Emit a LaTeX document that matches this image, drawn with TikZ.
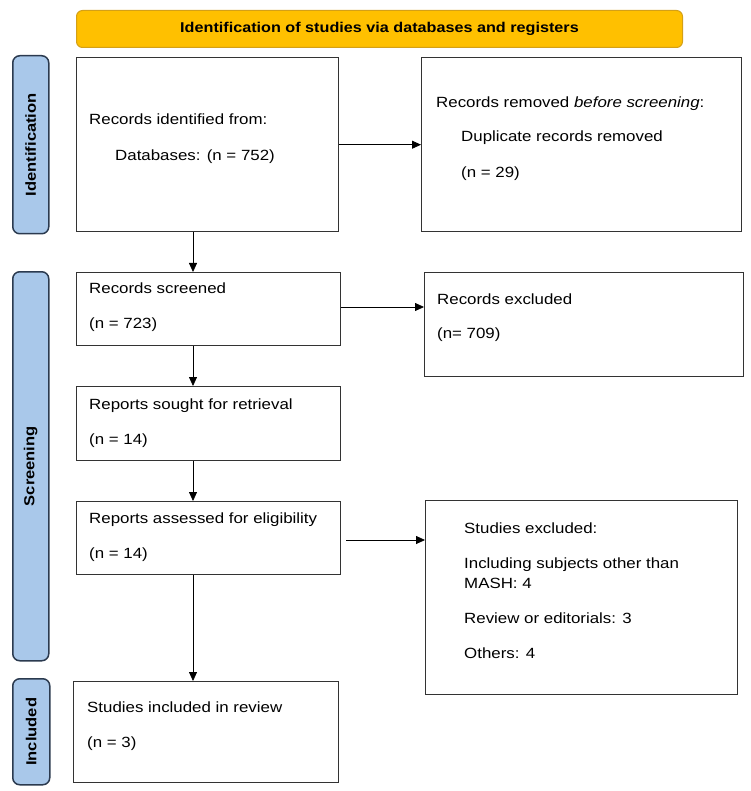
\documentclass[tikz,border=0pt]{standalone}
\usepackage{fontspec}
\setmainfont{Liberation Sans}[FakeStretch=1.14]
\usetikzlibrary{arrows.meta,calc}
\definecolor{bannerfill}{HTML}{FFC000}
\definecolor{bannerdraw}{HTML}{D4A017}
\definecolor{sidefill}{HTML}{A9C8EA}
\definecolor{sidedraw}{HTML}{2B3A4F}
\definecolor{boxdraw}{HTML}{333333}
\tikzset{
  box/.style={draw=boxdraw, line width=1.4pt, fill=white, rectangle, anchor=north west, inner sep=0pt},
  banner/.style={draw=bannerdraw, line width=1pt, fill=bannerfill, rounded corners=6pt, anchor=north west, inner sep=0pt},
  side/.style={draw=sidedraw, line width=1.5pt, fill=sidefill, rounded corners=7pt, anchor=north west, inner sep=0pt},
  sidetext/.style={rotate=90, font=\fontsize{14.5}{16}\selectfont\bfseries},
  txt/.style={anchor=base west, inner sep=0pt, font=\fontsize{14.8}{17}\selectfont},
  arr/.style={draw=black, line width=0.8pt, -{Triangle[length=9pt,width=8pt]}}
}
\begin{document}
\begin{tikzpicture}[x=1pt,y=-1pt]
\useasboundingbox (0,0) rectangle (750,791);
% banner
\node[banner, minimum width=606pt, minimum height=37pt] (ban) at (76,10) {};
\node[font=\fontsize{14.2}{16}\selectfont\bfseries, inner sep=0pt] (bantxt) at (ban.center) {Identification of studies via databases and registers};
% side labels
\node[side, minimum width=36pt, minimum height=178pt] (sid) at (12,55) {};
\node[sidetext] (sidt) at (sid.center) {Identification};
\node[side, minimum width=36pt, minimum height=389pt] (sscr) at (12,271) {};
\node[sidetext] (sscrt) at (sscr.center) {Screening};
\node[side, minimum width=37pt, minimum height=106pt] (sinc) at (12,678) {};
\node[sidetext] (sinct) at (sinc.center) {Included};
% boxes
\node[box, minimum width=262pt, minimum height=174pt] (b1) at (76,57) {};
\node[box, minimum width=320pt, minimum height=174pt] (b2) at (421,57) {};
\node[box, minimum width=264pt, minimum height=73pt] (scr) at (76,272) {};
\node[box, minimum width=319pt, minimum height=104pt] (exc) at (424,272) {};
\node[box, minimum width=264pt, minimum height=74pt] (sou) at (76,386) {};
\node[box, minimum width=264pt, minimum height=73pt] (ass) at (76,501) {};
\node[box, minimum width=312pt, minimum height=194pt] (sx) at (425,500) {};
\node[box, minimum width=265pt, minimum height=101pt] (inc) at (73,681) {};
% texts
\node[txt] (t1a) at (89,125) {Records identified from:};
\node[txt] (t1b) at (115,161) {Databases: (n = 752)};
\node[txt] (t2a) at (436,108) {Records removed \textit{before screening}:};
\node[txt] (t2b) at (461,142) {Duplicate records removed};
\node[txt] (t2c) at (461,178) {(n = 29)};
\node[txt] (t3a) at (89,293) {Records screened};
\node[txt] (t3b) at (89,328) {(n = 723)};
\node[txt] (t4a) at (437,304) {Records excluded};
\node[txt] (t4b) at (437,338) {(n= 709)};
\node[txt] (t5a) at (89,409) {Reports sought for retrieval};
\node[txt] (t5b) at (89,444) {(n = 14)};
\node[txt] (t6a) at (89,523) {Reports assessed for eligibility};
\node[txt] (t6b) at (89,558) {(n = 14)};
\node[txt] (t7a) at (464,533) {Studies excluded:};
\node[txt] (t7b) at (464,568) {Including subjects other than};
\node[txt] (t7c) at (464,588) {MASH: 4};
\node[txt] (t7d) at (464,623) {Review or editorials: 3};
\node[txt] (t7e) at (464,658) {Others: 4};
\node[txt] (t8a) at (87,712) {Studies included in review};
\node[txt] (t8b) at (87,747) {(n = 3)};
% arrows
\coordinate (ax) at (193,0);
\draw[arr] (b1.east) -- (b2.west);
\draw[arr] (b1.south -| ax) -- (scr.north -| ax);
\draw[arr] (scr.east |- 0,307) -- (exc.west |- 0,307);
\draw[arr] (scr.south -| ax) -- (sou.north -| ax);
\draw[arr] (sou.south -| ax) -- (ass.north -| ax);
\draw[arr] ($(ass.east |- 0,540)+(5,0)$) -- (sx.west |- 0,540);
\draw[arr] (ass.south -| ax) -- (inc.north -| ax);
\end{tikzpicture}
\end{document}
